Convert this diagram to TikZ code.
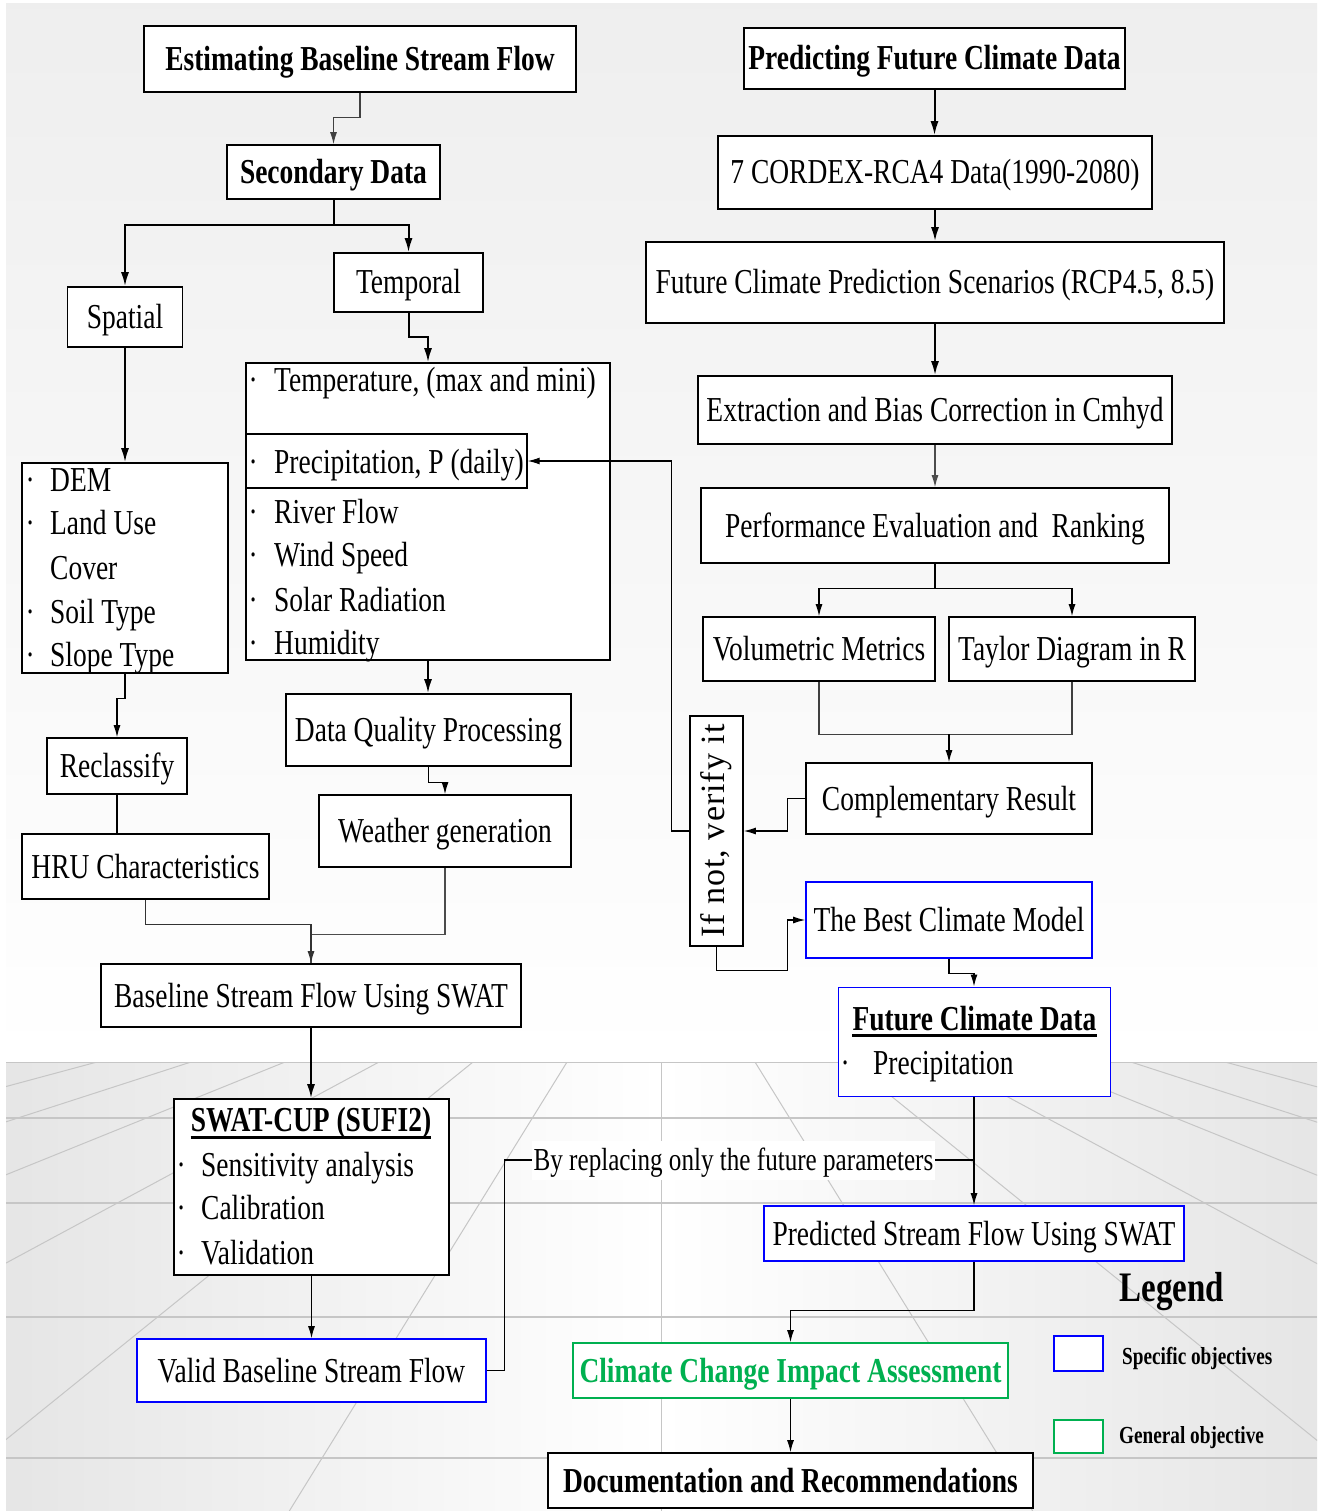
\documentclass[tikz,border=0pt]{standalone}
\usepackage{fontspec}
\setmainfont{Liberation Serif}[FakeStretch=0.785]
\newfontfamily\rotfont{Liberation Serif}[LetterSpace=3]
\usetikzlibrary{arrows.meta}
\definecolor{objblue}{RGB}{0,0,255}
\definecolor{objgreen}{RGB}{0,176,80}
\definecolor{floorgray}{RGB}{198,198,198}
\newcommand{\nfs}{\fontsize{35}{40}\selectfont}
\newcommand{\blt}[2]{\makebox[#1][l]{·}#2}
\begin{document}
\begin{tikzpicture}[x=1pt,y=-1pt,font=\nfs,
  frame/.style={draw, line width=1.6pt, fill=white, inner sep=0pt},
  nbox/.style={frame, text height=23pt, text depth=0pt, align=center},
  wh/.style 2 args={minimum width=#1pt, minimum height=#2pt},
  listitem/.style={anchor=west, inner sep=0pt, text height=23pt, text depth=0pt},
  con/.style={line width=1.2pt},
  arr/.style={con, -{Latex[length=12pt,width=7pt]}},
  tcon/.style={line width=2pt},
  tarr/.style={tcon, -{Latex[length=14pt,width=8pt]}},
  floorl/.style={draw=floorgray, line width=1pt},
  floorh/.style={draw=floorgray, line width=1.6pt}]
\useasboundingbox (0,0) rectangle (1322,1511);
% background
\fill[white] (0,0) rectangle (1322,1511);
\shade[top color=gray!13, bottom color=white] (6,4) rectangle (1317,1062);
\shade[left color=gray!20, right color=gray!20, middle color=white] (6,1062) rectangle (1317,1511);
\begin{scope}
\clip (6,1062) rectangle (1317,1511);
\foreach \k in {-6,...,6} \draw[floorl] ({661+94*\k},1062) -- ({661+371.7*\k},1511);
\foreach \yy in {1062,1118,1203,1317,1458} \draw[floorh] (6,\yy) -- (1317,\yy);
\end{scope}

% ---------- left column ----------
\node[nbox, wh={432}{66}] (est) at (360,59) {\bfseries Estimating Baseline Stream Flow};
\node[nbox, wh={213}{54}] (sec) at (333.5,172) {\bfseries Secondary Data};
\node[nbox, wh={115}{60}] (spatial) at (125,317) {Spatial};
\node[nbox, wh={149}{59}] (temporal) at (408.5,282.5) {Temporal};

\node[frame, wh={206}{210}] (spl) at (125,568) {};
\node[listitem] (dem) at (25.5,480) {\blt{24.5pt}{DEM}};
\node[listitem] (land) at (25.5,523) {\blt{24.5pt}{Land Use}};
\node[listitem] (cover) at (50,568) {Cover};
\node[listitem] (soil) at (25.5,612) {\blt{24.5pt}{Soil Type}};
\node[listitem] (slope) at (25.5,655) {\blt{24.5pt}{Slope Type}};

\node[frame, wh={364}{297}] (tpl) at (428,511.5) {};
\node[frame, line width=1.3pt, wh={281}{54}] (prec) at (386.5,461) {};
\node[listitem] (temp) at (248.5,380) {\blt{25.5pt}{Temperature, (max and mini)}};
\node[listitem] (precip) at (248.5,462) {\blt{25.5pt}{Precipitation, P (daily)}};
\node[listitem] (river) at (248.5,512) {\blt{25.5pt}{River Flow}};
\node[listitem] (wind) at (248.5,555) {\blt{25.5pt}{Wind Speed}};
\node[listitem] (solar) at (248.5,600) {\blt{25.5pt}{Solar Radiation}};
\node[listitem] (hum) at (248.5,643) {\blt{25.5pt}{Humidity}};

\node[nbox, wh={140}{56}] (recl) at (117,766) {Reclassify};
\node[nbox, wh={247}{65}] (hru) at (145.5,866.5) {HRU Characteristics};
\node[nbox, wh={285}{72}] (dqp) at (428.5,730) {Data Quality Processing};
\node[nbox, wh={252}{72}] (wg) at (445,831) {Weather generation};
\node[nbox, wh={420}{63}] (bsf) at (311,995.5) {Baseline Stream Flow Using SWAT};

\node[frame, wh={275}{176}] (swat) at (311.5,1187) {};
\node[inner sep=0pt, text height=23pt, text depth=0pt] (swatt) at (311,1120) {\bfseries SWAT-CUP (SUFI2)};
\draw[line width=3pt] ([yshift=-5.5pt]swatt.base west) -- ([yshift=-5.5pt]swatt.base east);
\node[listitem] (sens) at (176.5,1165) {\blt{24.5pt}{Sensitivity analysis}};
\node[listitem] (calib) at (176.5,1208) {\blt{24.5pt}{Calibration}};
\node[listitem] (valit) at (176.5,1253) {\blt{24.5pt}{Validation}};

\node[nbox, draw=objblue, wh={349}{63}] (valid) at (311.5,1370.5) {Valid Baseline Stream Flow};

% ---------- right column ----------
\node[nbox, wh={381}{61}] (pfc) at (934.5,58.5) {\bfseries Predicting Future Climate Data};
\node[nbox, wh={434}{73}] (cordex) at (935,172.5) {7 CORDEX-RCA4 Data(1990-2080)};
\node[nbox, wh={578}{81}] (scen) at (935,282.5) {Future Climate Prediction Scenarios (RCP4.5, 8.5)};
\node[nbox, wh={474}{68}] (extr) at (935,410) {Extraction and Bias Correction in Cmhyd};
\node[nbox, wh={468}{75}] (perf) at (935,525.5) {Performance Evaluation and~~Ranking};
\node[nbox, wh={232}{64}] (vol) at (819,649) {Volumetric Metrics};
\node[nbox, wh={246}{64}] (taylor) at (1072,649) {Taylor Diagram in R};
\node[nbox, wh={286}{71}] (compl) at (949,798.5) {Complementary Result};
\node[frame, wh={53}{230}] (ifnot) at (716.5,831) {\rotatebox{90}{\rotfont\fontsize{34}{38}\selectfont If not, verify it}};
\node[nbox, draw=objblue, wh={286}{76}] (best) at (949,920) {The Best Climate Model};

\node[frame, draw=objblue, line width=1pt, wh={272}{109}] (fcd) at (974,1041.5) {};
\node[inner sep=0pt, text height=23pt, text depth=0pt] (fcdt) at (974.5,1019) {\bfseries Future Climate Data};
\draw[line width=3pt] ([yshift=-4.5pt]fcdt.base west) -- ([yshift=-4.5pt]fcdt.base east);
\node[listitem] (fcdp) at (840.5,1063) {\blt{32.5pt}{Precipitation}};

\node[nbox, draw=objblue, wh={420}{55}] (pred) at (974,1233.5) {Predicted Stream Flow Using SWAT};
\node[nbox, draw=objgreen, text=objgreen, wh={435}{55}] (cc) at (790.5,1370.5) {\bfseries Climate Change Impact Assessment};
\node[nbox, wh={485}{55}] (doc) at (790.5,1480.5) {\bfseries Documentation and Recommendations};

\node[fill=white, inner sep=1.5pt, text height=21pt, text depth=0pt, minimum height=39pt,
      font=\fontsize{32}{36}\selectfont] (repl) at (733.5,1160) {By replacing only the future parameters};

% legend
\node[inner sep=0pt, text height=28pt, text depth=0pt, font=\fontsize{42}{46}\selectfont\bfseries] (leg) at (1172,1287.5) {Legend};
\node[frame, draw=objblue, line width=2pt, wh={49}{35}] (lb) at (1078.5,1353.5) {};
\node[listitem, text height=16pt, font=\fontsize{24.5}{28}\selectfont\bfseries] (lbt) at (1122,1356) {Specific objectives};
\node[frame, draw=objgreen, line width=2pt, wh={49}{33}] (lg) at (1078.5,1436.5) {};
\node[listitem, text height=16pt, font=\fontsize{24.5}{28}\selectfont\bfseries] (lgt) at (1119,1435) {General objective};

% ---------- connectors ----------
\draw[arr, draw=black!75] (est.south) -- ++(0,25) -| (sec.north);
\draw[tarr] (sec.south) -- ++(0,25) -| (spatial.north);
\draw[tarr] (sec.south) -- ++(0,25) -| (temporal.north);
\draw[tarr] (temporal.south) -- ++(0,24) -| (tpl.north);
\draw[tarr] (spatial.south) -- (spatial.south |- spl.north);
\draw[arr] (spl.south) -- ++(0,25) -| (recl.north);
\draw[con] (recl.south) -- (recl.south |- hru.north);
\draw[tarr] (tpl.south) -- (tpl.south |- dqp.north);
\draw[arr] (dqp.south) -- ++(0,16) -| (wg.north);
\draw[con, draw=black!70] (wg.south) -- ++(0,67) -| (bsf.north);
\draw[arr, draw=black!80] (hru.south) -- ++(0,25) -| (bsf.north);
\draw[tarr] (bsf.south) -- (bsf.south |- swat.north);
\draw[arr] (swat.south) -- (swat.south |- valid.north);
\draw[con] (valid.east) -- ++(18,0) |- (repl.west);
\draw[con] (repl.east) -- (repl.east -| fcd.south);
\draw[arr] (fcd.south) -- (pred.north);
\draw[arr] (pred.south) -- ++(0,49) -| (cc.north);
\draw[arr] (cc.south) -- (doc.north);

\draw[tarr] (pfc.south) -- (pfc.south |- cordex.north);
\draw[tarr] (cordex.south) -- (scen.north);
\draw[tarr] (scen.south) -- (extr.north);
\draw[arr, draw=black!70] (extr.south) -- (perf.north);
\draw[arr] (perf.south) -- ++(0,25) -| (vol.north);
\draw[arr] (perf.south) -- ++(0,25) -| (taylor.north);
\draw[con, draw=black!75] (vol.south) -- ++(0,53) -| (taylor.south);
\coordinate (jn) at (949,734);
\draw[arr] (jn) -- (compl.north);
\draw[arr] (compl.west) -- ++(-18,0) |- (ifnot.east);
\draw[arr] (ifnot.west) -- ++(-18,0) |- (prec.east);
\draw[arr] (ifnot.south) -- ++(0,24) -| ([xshift=-18pt]best.west) -- (best.west);
\draw[arr] (best.south) -- ++(0,15) -| (fcd.north);
\end{tikzpicture}
\end{document}
